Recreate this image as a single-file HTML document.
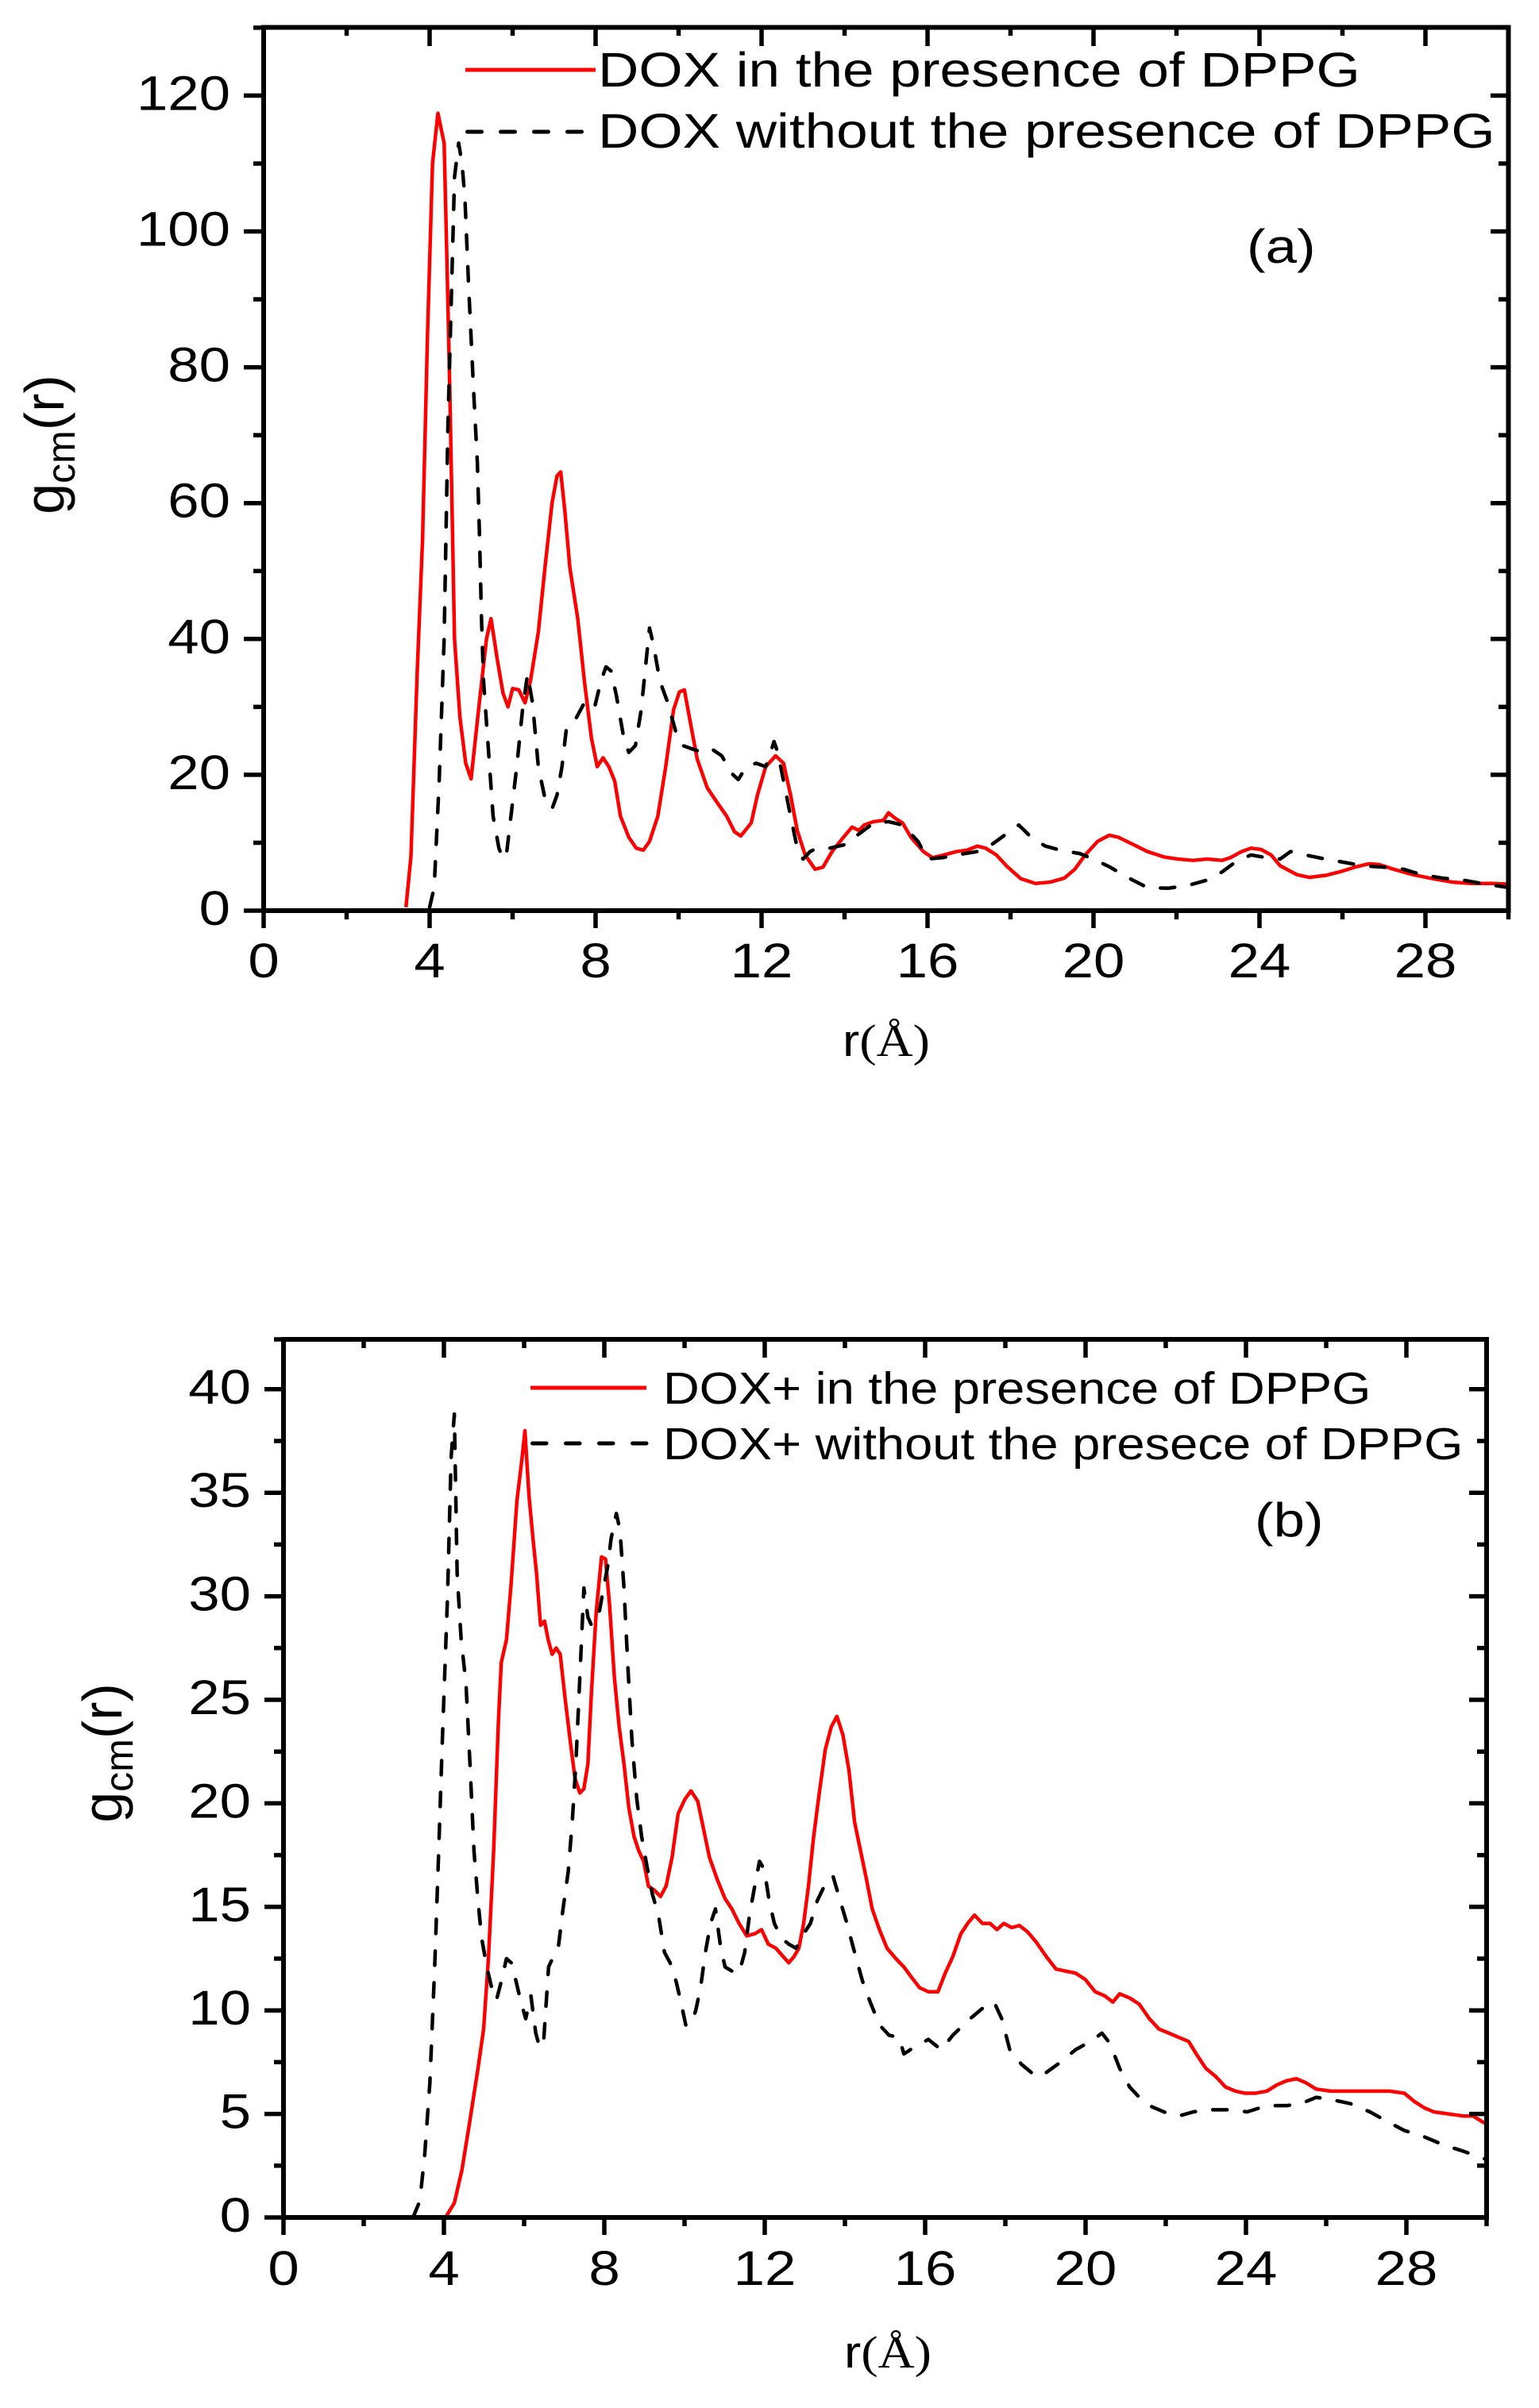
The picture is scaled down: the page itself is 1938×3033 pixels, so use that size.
<!DOCTYPE html>
<html>
<head>
<meta charset="utf-8">
<style>
html,body{margin:0;padding:0;background:#fff;}
svg{display:block;}
text{font-family:"Liberation Sans",Arial,sans-serif;fill:#000;}
.red{fill:none;stroke:#ff0000;stroke-width:4.5;stroke-linejoin:round;vector-effect:non-scaling-stroke;}
.blk{fill:none;stroke:#000;stroke-width:4.5;stroke-dasharray:18 22;stroke-linecap:round;stroke-linejoin:round;vector-effect:non-scaling-stroke;}
.ax{fill:none;stroke:#000;stroke-width:6;}
.tk{fill:none;stroke:#000;stroke-width:5.5;}
</style>
</head>
<body>
<svg width="1938" height="3033" viewBox="0 0 1938 3033" xmlns="http://www.w3.org/2000/svg">
<rect x="0" y="0" width="1938" height="3033" fill="#fff"/>

<!-- ================= PANEL A ================= -->
<g transform="translate(332,1147) scale(52.25,-8.555)">
<polyline class="red" points="3.43,0.5 3.55,8 3.7,35 3.83,54.7 3.95,85 4.07,110 4.2,117.4 4.35,113 4.42,95 4.49,75.6 4.6,40 4.73,28.5 4.87,21.7 5.0,19.4 5.18,29.6 5.37,40 5.48,43 5.63,37 5.77,32 5.89,30 6.0,32.7 6.15,32.5 6.3,30.6 6.43,33.8 6.62,41 6.78,50.5 6.95,60 7.07,64 7.16,64.6 7.26,58.8 7.38,50.5 7.57,43 7.73,33.8 7.9,25.4 8.04,21.2 8.18,22.5 8.32,21.2 8.46,19.1 8.6,13.9 8.8,10.8 8.98,9.2 9.15,8.9 9.3,10.2 9.5,13.9 9.69,21.2 9.88,29.6 10.02,32.2 10.14,32.5 10.26,28.5 10.45,22.3 10.69,18.1 10.92,16 11.16,13.9 11.35,11.6 11.5,11 11.75,12.9 11.9,17 12.1,21.2 12.34,22.8 12.53,21.7 12.7,17 12.86,11.8 13.05,8.2 13.29,6.1 13.48,6.4 13.7,8.7 14,11 14.18,12.3 14.35,11.8 14.47,12.6 14.7,13.1 14.94,13.3 15.06,14.4 15.22,13.6 15.4,12.9 15.6,10.8 15.9,8.7 16.12,7.8 16.4,8.2 16.7,8.7 16.95,8.9 17.2,9.5 17.4,9.2 17.66,8.2 17.9,6.6 18.25,4.7 18.6,4 18.96,4.2 19.3,4.8 19.55,6.1 19.8,8.2 20.1,10.2 20.38,11.1 20.6,10.8 20.97,9.7 21.3,8.7 21.7,7.9 22.03,7.6 22.4,7.4 22.74,7.6 23.1,7.4 23.3,7.8 23.57,8.7 23.8,9.2 24.04,9 24.28,8.2 24.5,6.6 24.9,5.3 25.2,4.9 25.6,5.2 25.93,5.7 26.3,6.4 26.64,6.9 26.88,6.8 27.23,6.1 27.7,5.3 28.18,4.7 28.65,4.2 29.1,4 29.6,4 30,3.9"/>
<polyline class="blk" points="4.0,0.5 4.11,3.4 4.23,19 4.35,40 4.44,71 4.54,94 4.6,108 4.7,113 4.78,110 4.85,105 4.94,92 5.06,76.6 5.15,66 5.2,55.7 5.25,43 5.3,33.8 5.41,24.3 5.53,13.9 5.67,9.2 5.77,7.6 5.86,8.7 5.96,13.9 6.1,21.2 6.24,29.6 6.36,34.8 6.48,30.6 6.62,21.2 6.78,16.5 6.95,15 7.07,17 7.19,21.2 7.3,27 7.5,28 7.73,30.6 7.97,29.8 8.13,33.8 8.25,35.9 8.37,35.3 8.5,31.7 8.68,25.4 8.8,23.3 8.96,24.3 9.1,29.6 9.22,36.9 9.3,41.6 9.4,39 9.55,33.8 9.74,30.6 9.93,26.4 10.1,24.3 10.33,23.8 10.57,23.3 10.8,23.8 11.04,22.8 11.28,20.2 11.44,19.3 11.63,21.2 11.87,21.7 12.1,21.2 12.22,23.3 12.3,24.9 12.39,23.3 12.53,19.1 12.7,13.9 12.86,9.2 13,7.6 13.17,8.7 13.33,9.2 13.64,9.2 14,9.7 14.35,11.3 14.7,12.9 15.06,13.1 15.4,12.6 15.77,10.2 16,7.6 16.36,7.8 16.7,8.2 17.2,8.7 17.54,9.7 17.9,11.3 18.2,12.6 18.5,10.8 18.84,9.5 19.2,8.9 19.67,8.4 20,7.6 20.4,6.4 20.85,4.8 21.3,3.4 21.8,3.3 22.27,3.7 22.74,4.5 23.1,5.7 23.45,7.3 23.8,8.2 24.16,7.8 24.5,7.6 24.75,8.7 25.1,8.2 25.58,7.6 26.05,7.1 26.5,6.6 27,6.4 27.47,6.1 27.9,5.3 28.4,4.8 28.9,4.5 29.36,4 30,3.4"/>
</g>

<rect class="ax" x="332" y="34.5" width="1567.5" height="1112.5"/>
<path class="tk" d="M307,1147H332 M307,975.9H332 M307,804.8H332 M307,633.7H332 M307,462.6H332 M307,291.5H332 M307,120.4H332
M319,1061.45H332 M319,890.35H332 M319,719.25H332 M319,548.15H332 M319,377.05H332 M319,205.95H332 M319,34.85H332"/>
<path class="tk" d="M1877,975.9H1899.5 M1877,804.8H1899.5 M1877,633.7H1899.5 M1877,462.6H1899.5 M1877,291.5H1899.5 M1877,120.4H1899.5
M1887,1061.45H1899.5 M1887,890.35H1899.5 M1887,719.25H1899.5 M1887,548.15H1899.5 M1887,377.05H1899.5 M1887,205.95H1899.5"/>
<path class="tk" d="M332,1147V1169 M541,1147V1169 M750,1147V1169 M959,1147V1169 M1168,1147V1169 M1377,1147V1169 M1586,1147V1169 M1795,1147V1169
M436.5,1147V1158 M645.5,1147V1158 M854.5,1147V1158 M1063.5,1147V1158 M1272.5,1147V1158 M1481.5,1147V1158 M1690.5,1147V1158 M1899.5,1147V1158"/>
<path class="tk" d="M541,34.5V58 M750,34.5V58 M959,34.5V58 M1168,34.5V58 M1377,34.5V58 M1586,34.5V58 M1795,34.5V58
M436.5,34.5V45 M645.5,34.5V45 M854.5,34.5V45 M1063.5,34.5V45 M1272.5,34.5V45 M1481.5,34.5V45 M1690.5,34.5V45"/>

<g font-size="61" text-anchor="end">
<text transform="translate(290,1165) scale(1.16,1)">0</text>
<text transform="translate(290,993.9) scale(1.16,1)">20</text>
<text transform="translate(290,822.8) scale(1.16,1)">40</text>
<text transform="translate(290,651.7) scale(1.16,1)">60</text>
<text transform="translate(290,480.6) scale(1.16,1)">80</text>
<text transform="translate(290,309.5) scale(1.16,1)">100</text>
<text transform="translate(290,138.4) scale(1.16,1)">120</text>
</g>
<g font-size="61" text-anchor="middle">
<text transform="translate(332,1231) scale(1.16,1)">0</text>
<text transform="translate(541,1231) scale(1.16,1)">4</text>
<text transform="translate(750,1231) scale(1.16,1)">8</text>
<text transform="translate(959,1231) scale(1.16,1)">12</text>
<text transform="translate(1168,1231) scale(1.16,1)">16</text>
<text transform="translate(1377,1231) scale(1.16,1)">20</text>
<text transform="translate(1586,1231) scale(1.16,1)">24</text>
<text transform="translate(1795,1231) scale(1.16,1)">28</text>
</g>

<text transform="translate(1116,1330) scale(1.12,1)" font-size="57" text-anchor="middle">r<tspan font-family="Liberation Serif, Times New Roman, serif">(Å)</tspan></text>
<text transform="translate(80,560) rotate(-90)" font-size="70" text-anchor="middle">g<tspan font-size="50" dy="14">cm</tspan><tspan dy="-14">(r)</tspan></text>

<line x1="586" y1="88" x2="750" y2="88" stroke="#ff0000" stroke-width="5"/>
<line x1="588.5" y1="166" x2="740" y2="166" stroke="#000" stroke-width="5" stroke-dasharray="18 24" stroke-linecap="round"/>
<text transform="translate(753,109) scale(1.165,1)" font-size="61">DOX in the presence of DPPG</text>
<text transform="translate(753,186) scale(1.165,1)" font-size="61">DOX without the presence of DPPG</text>
<text transform="translate(1570,331) scale(1.18,1)" font-size="60">(a)</text>

<!-- ================= PANEL B ================= -->
<g transform="translate(357,2793) scale(50.5,-26.08)">
<polyline class="red" points="4.04,0 4.26,0.7 4.45,2.3 4.65,4.7 4.85,7.2 4.99,9.1 5.11,12.5 5.24,17.7 5.36,24 5.43,26.8 5.56,27.9 5.68,30.7 5.82,34.6 5.95,36.7 6.02,38 6.12,34.9 6.22,32.8 6.31,31.1 6.41,28.6 6.51,28.8 6.6,27.9 6.7,27.2 6.8,27.5 6.9,27.2 7.02,25.1 7.15,23 7.27,21.2 7.39,20.5 7.49,20.7 7.59,21.9 7.68,25.4 7.8,29.3 7.93,31.9 8.03,31.8 8.13,29.6 8.25,26.1 8.37,23.7 8.49,21.9 8.61,19.8 8.74,18.4 8.86,17.7 8.98,17.2 9.1,16 9.25,15.8 9.4,15.5 9.54,16 9.69,17.4 9.84,19.5 10.01,20.2 10.16,20.6 10.33,20.1 10.47,18.8 10.62,17.4 10.82,16.3 11.01,15.4 11.18,14.9 11.36,14.2 11.55,13.6 11.75,13.7 11.92,13.9 12.09,13.2 12.28,13 12.46,12.6 12.6,12.3 12.73,12.6 12.85,13 12.97,14.2 13.09,16 13.22,18.4 13.36,20.5 13.51,22.6 13.66,23.7 13.8,24.2 13.95,23.3 14.1,21.6 14.24,19.1 14.39,17.7 14.54,16.3 14.68,14.9 14.86,13.9 15.05,13 15.27,12.5 15.47,12.1 15.66,11.6 15.86,11.1 16.08,10.9 16.32,10.9 16.5,11.8 16.69,12.6 16.89,13.7 17.06,14.2 17.23,14.6 17.43,14.2 17.62,14.2 17.79,13.9 17.96,14.2 18.16,14 18.35,14.1 18.55,13.8 18.77,13.3 19.02,12.6 19.26,12 19.5,11.9 19.75,11.8 19.99,11.5 20.24,10.9 20.48,10.7 20.68,10.4 20.85,10.8 21.1,10.6 21.34,10.3 21.59,9.6 21.83,9.1 22.08,8.9 22.32,8.7 22.57,8.5 22.76,7.9 23,7.2 23.25,6.8 23.49,6.3 23.74,6.1 23.98,6 24.23,6 24.52,6.1 24.77,6.4 25.01,6.6 25.26,6.7 25.5,6.5 25.75,6.2 26.11,6.1 26.48,6.1 26.85,6.1 27.21,6.1 27.58,6.1 27.95,6 28.2,5.6 28.44,5.3 28.68,5.1 29.05,5 29.42,4.9 29.66,4.9 30,4.5"/>
<polyline class="blk" points="3.23,0 3.4,0.8 3.52,3 3.65,6.5 3.77,12.1 3.87,17.7 3.96,23 4.09,30 4.18,36.7 4.26,38.8 4.33,31.1 4.43,27.9 4.55,25.8 4.65,21.9 4.75,17.7 4.85,15.3 4.94,13.5 5.07,12.1 5.19,11.1 5.31,10.5 5.43,11.4 5.56,12.5 5.68,12.3 5.8,11.4 5.92,10.4 6.04,9.6 6.17,10.7 6.29,8.9 6.39,8.2 6.49,8.6 6.61,12.1 6.73,12.6 6.85,13 6.97,14.9 7.1,16.7 7.2,19.1 7.29,21.9 7.39,26.1 7.49,30.4 7.59,29 7.68,28.6 7.78,29 7.88,29.3 7.98,30.4 8.08,31.4 8.17,32.8 8.3,34 8.39,33.2 8.49,30.4 8.59,26.5 8.69,23 8.81,20.2 8.93,18.4 9.06,17 9.2,15.6 9.35,14.6 9.5,12.8 9.64,12.3 9.79,11.4 9.91,10.4 10.03,9.3 10.16,9.3 10.28,10 10.4,11.1 10.52,12.8 10.65,14.2 10.77,14.9 10.89,13.2 11.01,12.1 11.18,11.9 11.36,11.8 11.5,12.8 11.62,14.6 11.75,16 11.87,17.2 11.99,16.8 12.11,15.3 12.24,14.2 12.41,13.5 12.6,13.2 12.78,13 12.97,13.7 13.14,14.2 13.31,15.3 13.51,16.1 13.7,16.5 13.88,15.3 14.05,14.2 14.24,12.8 14.44,11.4 14.63,10.4 14.86,9.3 15.1,8.8 15.35,8.7 15.47,7.9 15.71,8.2 16.08,8.6 16.4,8.1 16.69,8.8 17.06,9.5 17.43,10.1 17.72,10.4 17.91,9.6 18.11,8.1 18.4,7.4 18.77,6.8 19.02,7 19.38,7.5 19.75,8.1 20.12,8.5 20.41,8.9 20.61,8.4 20.85,7.2 21.1,6.3 21.34,5.8 21.59,5.4 21.95,5.1 22.32,4.9 22.69,5.1 23.05,5.2 23.54,5.2 24.03,5.1 24.52,5.4 25.01,5.4 25.38,5.5 25.75,5.8 26.11,5.7 26.6,5.5 27.09,5.1 27.46,4.7 27.95,4.2 28.44,3.9 28.93,3.5 29.42,3.2 30,2.8"/>
</g>

<rect class="ax" x="357" y="1687" width="1515" height="1106"/>
<path class="tk" d="M333,2793H357 M333,2662.6H357 M333,2532.2H357 M333,2401.8H357 M333,2271.4H357 M333,2141H357 M333,2010.6H357 M333,1880.2H357 M333,1749.8H357
M345,2727.8H357 M345,2597.4H357 M345,2467H357 M345,2336.6H357 M345,2206.2H357 M345,2075.8H357 M345,1945.4H357 M345,1815H357 M345,1687H357"/>
<path class="tk" d="M1850,2662.6H1872 M1850,2532.2H1872 M1850,2401.8H1872 M1850,2271.4H1872 M1850,2141H1872 M1850,2010.6H1872 M1850,1880.2H1872 M1850,1749.8H1872
M1860,2727.8H1872 M1860,2597.4H1872 M1860,2467H1872 M1860,2336.6H1872 M1860,2206.2H1872 M1860,2075.8H1872 M1860,1945.4H1872 M1860,1815H1872"/>
<path class="tk" d="M357,2793V2815 M559,2793V2815 M761,2793V2815 M963,2793V2815 M1165,2793V2815 M1367,2793V2815 M1569,2793V2815 M1771,2793V2815
M458,2793V2804 M660,2793V2804 M862,2793V2804 M1064,2793V2804 M1266,2793V2804 M1468,2793V2804 M1670,2793V2804 M1872,2793V2804"/>
<path class="tk" d="M559,1687V1710 M761,1687V1710 M963,1687V1710 M1165,1687V1710 M1367,1687V1710 M1569,1687V1710 M1771,1687V1710
M458,1687V1698 M660,1687V1698 M862,1687V1698 M1064,1687V1698 M1266,1687V1698 M1468,1687V1698 M1670,1687V1698"/>

<g font-size="61" text-anchor="end">
<text transform="translate(316,2811) scale(1.16,1)">0</text>
<text transform="translate(316,2680.6) scale(1.16,1)">5</text>
<text transform="translate(316,2550.2) scale(1.16,1)">10</text>
<text transform="translate(316,2419.8) scale(1.16,1)">15</text>
<text transform="translate(316,2289.4) scale(1.16,1)">20</text>
<text transform="translate(316,2159) scale(1.16,1)">25</text>
<text transform="translate(316,2028.6) scale(1.16,1)">30</text>
<text transform="translate(316,1898.2) scale(1.16,1)">35</text>
<text transform="translate(316,1767.8) scale(1.16,1)">40</text>
</g>
<g font-size="61" text-anchor="middle">
<text transform="translate(357,2878) scale(1.16,1)">0</text>
<text transform="translate(559,2878) scale(1.16,1)">4</text>
<text transform="translate(761,2878) scale(1.16,1)">8</text>
<text transform="translate(963,2878) scale(1.16,1)">12</text>
<text transform="translate(1165,2878) scale(1.16,1)">16</text>
<text transform="translate(1367,2878) scale(1.16,1)">20</text>
<text transform="translate(1569,2878) scale(1.16,1)">24</text>
<text transform="translate(1771,2878) scale(1.16,1)">28</text>
</g>

<text transform="translate(1118,2982) scale(1.12,1)" font-size="57" text-anchor="middle">r<tspan font-family="Liberation Serif, Times New Roman, serif">(Å)</tspan></text>
<text transform="translate(153,2208) rotate(-90)" font-size="70" text-anchor="middle">g<tspan font-size="50" dy="14">cm</tspan><tspan dy="-14">(r)</tspan></text>

<line x1="668" y1="1748" x2="814" y2="1748" stroke="#ff0000" stroke-width="5"/>
<line x1="670.5" y1="1818" x2="814" y2="1818" stroke="#000" stroke-width="5" stroke-dasharray="17.5 24.5" stroke-linecap="round"/>
<text transform="translate(835,1768) scale(1.11,1)" font-size="57">DOX+ in the presence of DPPG</text>
<text transform="translate(835,1838) scale(1.11,1)" font-size="57">DOX+ without the presece of DPPG</text>
<text transform="translate(1580,1935) scale(1.18,1)" font-size="60">(b)</text>

</svg>
</body>
</html>
